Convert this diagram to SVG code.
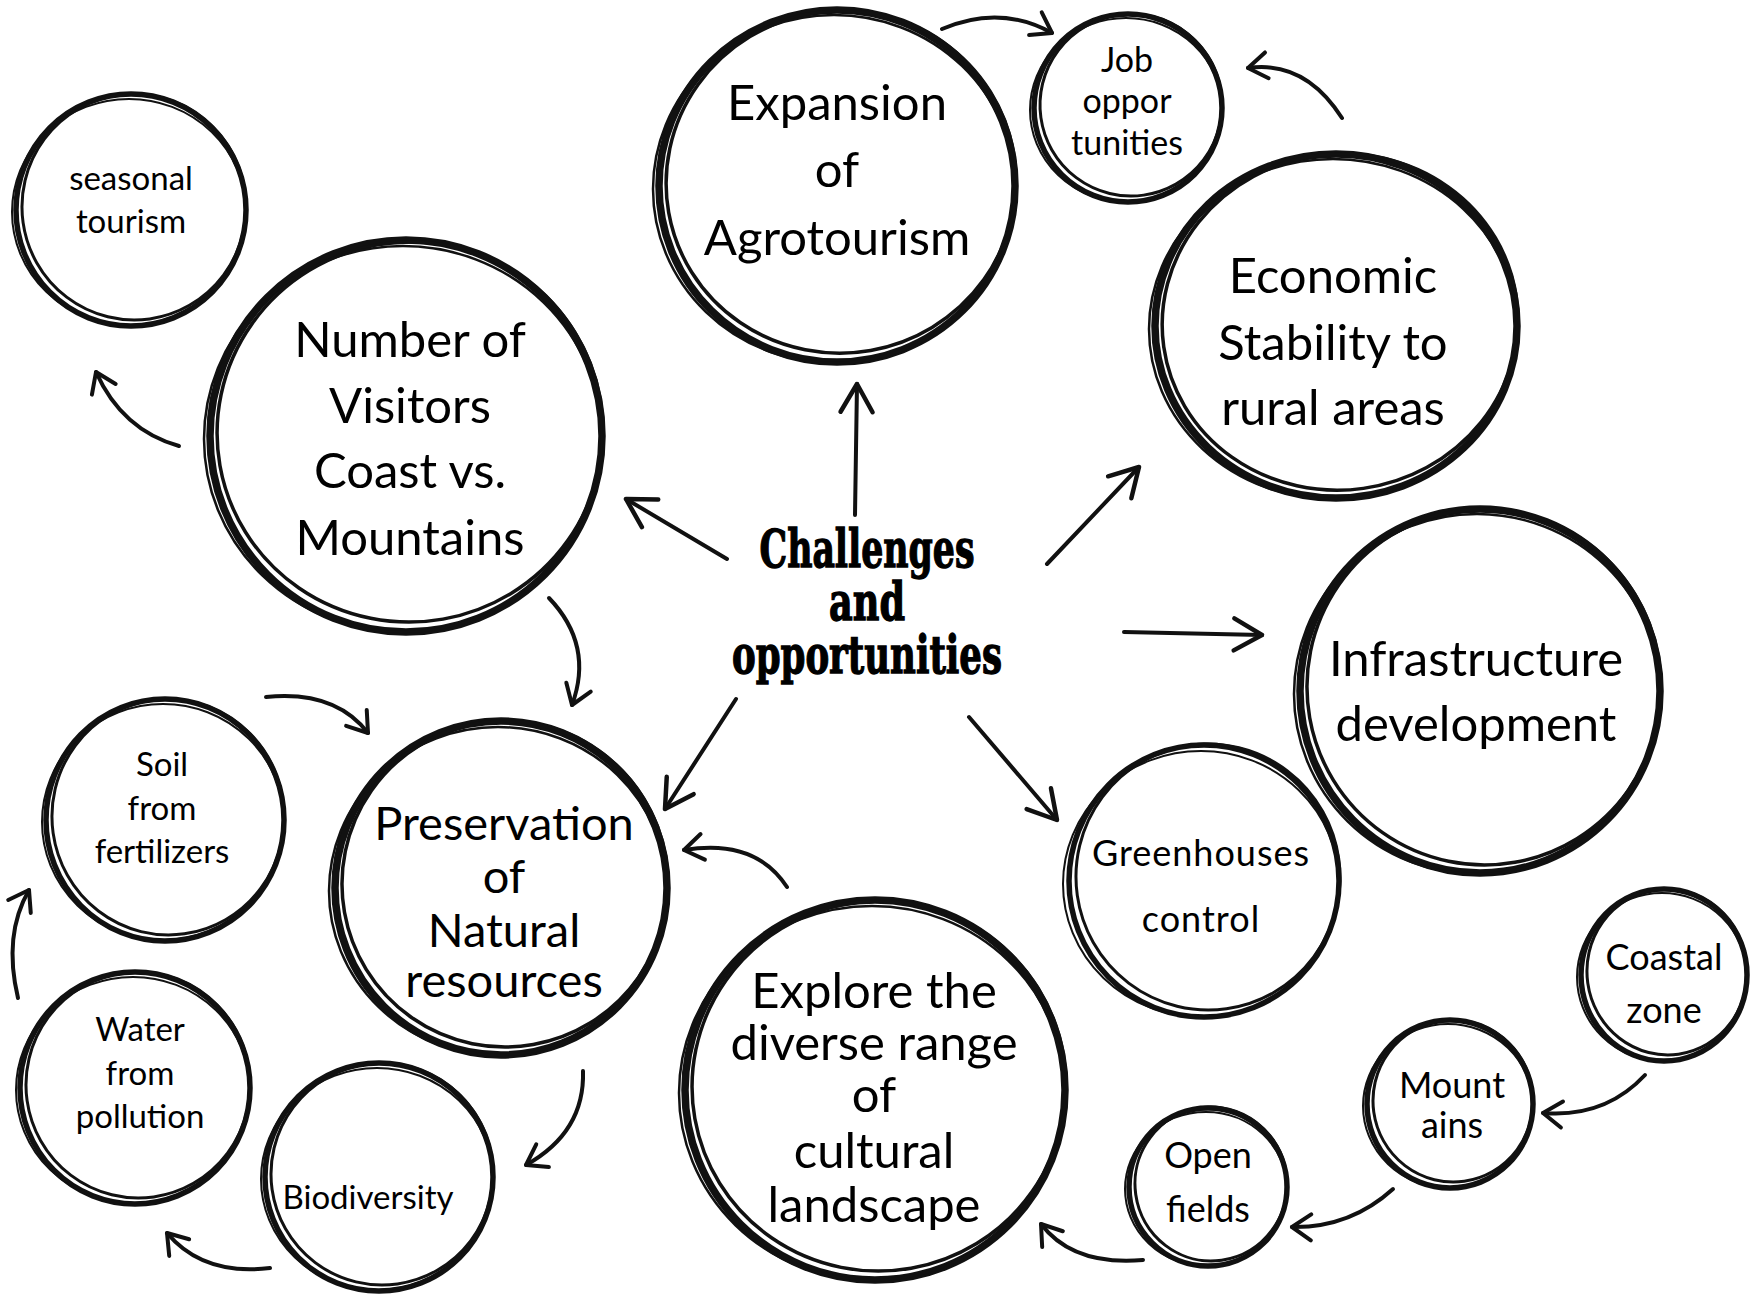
<svg xmlns="http://www.w3.org/2000/svg" width="1756" height="1296" viewBox="0 0 1756 1296">
  <defs>
    <style>
      .ra { fill: none; stroke: #111; stroke-width: 7.5; }
      .rb { fill: none; stroke: #111; stroke-width: 3.5; }
      .rc { fill: none; stroke: #111; stroke-width: 2.5; }
      .sa { fill: none; stroke: #111; stroke-width: 5.5; }
      .sb { fill: none; stroke: #111; stroke-width: 3; }
      .sc { fill: none; stroke: #111; stroke-width: 2; }
      .lbl { font-family: "Lato", "Open Sans", sans-serif; fill: #000; text-anchor: middle; }
      .big { font-size: 49px; }
      .tight { font-size: 47px; }
      .mid { font-size: 36px; }
      .job { font-size: 34px; }
      .small { font-size: 33px; }
      .hub { font-family: "DejaVu Serif", "Liberation Serif", serif; font-weight: bold; font-size: 53px; fill: #000; stroke: #000; stroke-width: 1.4; text-anchor: middle; }
      .link { fill: none; stroke: #111; stroke-width: 4; stroke-linecap: round; }
    </style>
    <marker id="tip" viewBox="-24 -16 28 32" refX="0" refY="0" markerWidth="28" markerHeight="32" markerUnits="userSpaceOnUse" orient="auto">
      <path d="M-19,-13 L0,0 L-19,13" fill="none" stroke="#111" stroke-width="4" stroke-linecap="round" stroke-linejoin="round"/>
    </marker>
    <marker id="tipL" viewBox="-40 -22 44 44" refX="0" refY="0" markerWidth="44" markerHeight="44" markerUnits="userSpaceOnUse" orient="auto">
      <path d="M-28,-16 L0,0 L-28,16" fill="none" stroke="#111" stroke-width="4.5" stroke-linecap="round" stroke-linejoin="round"/>
    </marker>
  </defs>

  <rect width="1756" height="1296" fill="#fff"/>

  <!-- connectors -->
  <g id="connectors">
    <!-- from the hub -->
    <path class="link" d="M855,515 L857,384" marker-end="url(#tipL)"/>
    <path class="link" d="M727,559 L626,499" marker-end="url(#tipL)"/>
    <path class="link" d="M1047,564 L1139,467" marker-end="url(#tipL)"/>
    <path class="link" d="M1124,632 L1262,635" marker-end="url(#tipL)"/>
    <path class="link" d="M969,717 L1057,820" marker-end="url(#tipL)"/>
    <path class="link" d="M736,699 L665,809" marker-end="url(#tipL)"/>
    <!-- curved links between nodes -->
    <path class="link" d="M942,29 Q1000,4 1052,33" marker-end="url(#tip)"/>
    <path class="link" d="M1342,118 Q1305,60 1248,68" marker-end="url(#tip)"/>
    <path class="link" d="M179,446 Q122,430 96,372" marker-end="url(#tip)"/>
    <path class="link" d="M549,598 Q594,645 572,705" marker-end="url(#tip)"/>
    <path class="link" d="M266,697 Q335,690 368,733" marker-end="url(#tip)"/>
    <path class="link" d="M787,887 Q755,838 684,850" marker-end="url(#tip)"/>
    <path class="link" d="M583,1071 Q585,1132 526,1165" marker-end="url(#tip)"/>
    <path class="link" d="M270,1268 Q203,1276 167,1233" marker-end="url(#tip)"/>
    <path class="link" d="M18,998 Q3,935 29,890" marker-end="url(#tip)"/>
    <path class="link" d="M1645,1075 Q1605,1118 1543,1113" marker-end="url(#tip)"/>
    <path class="link" d="M1393,1189 Q1350,1228 1292,1227" marker-end="url(#tip)"/>
    <path class="link" d="M1143,1260 Q1073,1266 1041,1224" marker-end="url(#tip)"/>
  </g>

  <!-- hub label -->
  <g id="hub">
    <text class="hub" x="867" y="567" textLength="215" lengthAdjust="spacingAndGlyphs">Challenges</text>
    <text class="hub" x="867" y="620" textLength="76" lengthAdjust="spacingAndGlyphs">and</text>
    <text class="hub" x="867" y="673" textLength="270" lengthAdjust="spacingAndGlyphs">opportunities</text>
  </g>

  <g id="seasonal-tourism">
    <ellipse class="sa" cx="131" cy="210" rx="115" ry="116"/>
    <ellipse class="sb" cx="134" cy="207" rx="112" ry="113" transform="rotate(-8 134 207)"/>
    <ellipse class="sc" cx="129" cy="212" rx="117" ry="113"/>
    <text class="lbl small" x="131" y="190">seasonal</text>
    <text class="lbl small" x="131" y="233">tourism</text>
  </g>

  <g id="number-of-visitors">
    <ellipse class="ra" cx="406" cy="436" rx="196" ry="196"/>
    <ellipse class="rb" cx="410" cy="432" rx="193" ry="190" transform="rotate(-10 410 432)"/>
    <ellipse class="rc" cx="403" cy="439" rx="199" ry="193"/>
    <text class="lbl big" x="410" y="357">Number of</text>
    <text class="lbl big" x="410" y="423">Visitors</text>
    <text class="lbl big" x="410" y="488">Coast vs.</text>
    <text class="lbl big" x="410" y="555">Mountains</text>
  </g>

  <g id="expansion-of-agrotourism">
    <ellipse class="ra" cx="837" cy="186" rx="178" ry="176"/>
    <ellipse class="rb" cx="841" cy="182" rx="175" ry="171" transform="rotate(-10 841 182)"/>
    <ellipse class="rc" cx="834" cy="189" rx="181" ry="174"/>
    <text class="lbl big" x="837" y="120">Expansion</text>
    <text class="lbl big" x="837" y="187">of</text>
    <text class="lbl big" x="837" y="255">Agrotourism</text>
  </g>

  <g id="job-opportunities">
    <ellipse class="sa" cx="1128" cy="108" rx="94" ry="94"/>
    <ellipse class="sb" cx="1131" cy="105" rx="91" ry="91" transform="rotate(-8 1131 105)"/>
    <ellipse class="sc" cx="1126" cy="110" rx="96" ry="92"/>
    <text class="lbl job" x="1127" y="72">Job</text>
    <text class="lbl job" x="1127" y="113">oppor</text>
    <text class="lbl job" x="1127" y="155">tunities</text>
  </g>

  <g id="economic-stability">
    <ellipse class="ra" cx="1336" cy="326" rx="181" ry="172"/>
    <ellipse class="rb" cx="1340" cy="322" rx="178" ry="168" transform="rotate(-8 1340 322)"/>
    <ellipse class="rc" cx="1333" cy="329" rx="184" ry="170"/>
    <text class="lbl big" x="1333" y="293">Economic</text>
    <text class="lbl big" x="1333" y="360">Stability to</text>
    <text class="lbl big" x="1333" y="425">rural areas</text>
  </g>

  <g id="infrastructure-development">
    <ellipse class="ra" cx="1480" cy="691" rx="180" ry="182"/>
    <ellipse class="rb" cx="1484" cy="687" rx="177" ry="178" transform="rotate(-10 1484 687)"/>
    <ellipse class="rc" cx="1477" cy="694" rx="183" ry="180"/>
    <text class="lbl big" x="1476" y="676">Infrastructure</text>
    <text class="lbl big" x="1476" y="741">development</text>
  </g>

  <g id="greenhouses-control">
    <ellipse class="sa" cx="1204" cy="881" rx="135" ry="136"/>
    <ellipse class="sb" cx="1208" cy="877" rx="132" ry="133" transform="rotate(-8 1208 877)"/>
    <ellipse class="sc" cx="1201" cy="884" rx="138" ry="133"/>
    <text class="lbl mid" x="1201" y="866" letter-spacing="1">Greenhouses</text>
    <text class="lbl mid" x="1201" y="932" letter-spacing="1">control</text>
  </g>

  <g id="coastal-zone">
    <ellipse class="sa" cx="1664" cy="975" rx="83" ry="86"/>
    <ellipse class="sb" cx="1667" cy="972" rx="80" ry="83" transform="rotate(-8 1667 972)"/>
    <ellipse class="sc" cx="1662" cy="977" rx="85" ry="84"/>
    <text class="lbl mid" x="1664" y="970">Coastal</text>
    <text class="lbl mid" x="1664" y="1023">zone</text>
  </g>

  <g id="mountains">
    <ellipse class="sa" cx="1450" cy="1104" rx="83" ry="84"/>
    <ellipse class="sb" cx="1453" cy="1101" rx="80" ry="81" transform="rotate(-8 1453 1101)"/>
    <ellipse class="sc" cx="1448" cy="1106" rx="85" ry="82"/>
    <text class="lbl mid" x="1452" y="1098">Mount</text>
    <text class="lbl mid" x="1452" y="1138">ains</text>
  </g>

  <g id="open-fields">
    <ellipse class="sa" cx="1208" cy="1187" rx="79" ry="79"/>
    <ellipse class="sb" cx="1211" cy="1184" rx="76" ry="77" transform="rotate(-8 1211 1184)"/>
    <ellipse class="sc" cx="1206" cy="1189" rx="81" ry="77"/>
    <text class="lbl mid" x="1208" y="1168">Open</text>
    <text class="lbl mid" x="1208" y="1222">fields</text>
  </g>

  <g id="explore-cultural-landscape">
    <ellipse class="ra" cx="875" cy="1090" rx="190" ry="190"/>
    <ellipse class="rb" cx="879" cy="1086" rx="187" ry="185" transform="rotate(-10 879 1086)"/>
    <ellipse class="rc" cx="872" cy="1093" rx="193" ry="187"/>
    <text class="lbl big" x="874" y="1008">Explore the</text>
    <text class="lbl big" x="874" y="1060">diverse range</text>
    <text class="lbl big" x="874" y="1112">of</text>
    <text class="lbl big" x="874" y="1168">cultural</text>
    <text class="lbl big" x="874" y="1222">landscape</text>
  </g>

  <g id="preservation-natural-resources">
    <ellipse class="ra" cx="501" cy="888" rx="166" ry="167"/>
    <ellipse class="rb" cx="505" cy="884" rx="163" ry="163" transform="rotate(-10 505 884)"/>
    <ellipse class="rc" cx="498" cy="891" rx="169" ry="164"/>
    <text class="lbl tight" x="504" y="840">Preservation</text>
    <text class="lbl tight" x="504" y="893">of</text>
    <text class="lbl tight" x="504" y="947">Natural</text>
    <text class="lbl tight" x="504" y="997">resources</text>
  </g>

  <g id="soil-from-fertilizers">
    <ellipse class="sa" cx="165" cy="820" rx="119" ry="121"/>
    <ellipse class="sb" cx="168" cy="817" rx="116" ry="118" transform="rotate(-8 168 817)"/>
    <ellipse class="sc" cx="163" cy="822" rx="121" ry="118"/>
    <text class="lbl small" x="162" y="776">Soil</text>
    <text class="lbl small" x="162" y="820">from</text>
    <text class="lbl small" x="162" y="863">fertilizers</text>
  </g>

  <g id="water-from-pollution">
    <ellipse class="sa" cx="135" cy="1088" rx="115" ry="116"/>
    <ellipse class="sb" cx="138" cy="1085" rx="112" ry="113" transform="rotate(-8 138 1085)"/>
    <ellipse class="sc" cx="133" cy="1090" rx="117" ry="113"/>
    <text class="lbl small" x="140" y="1041">Water</text>
    <text class="lbl small" x="140" y="1085">from</text>
    <text class="lbl small" x="140" y="1128">pollution</text>
  </g>

  <g id="biodiversity">
    <ellipse class="sa" cx="379" cy="1177" rx="114" ry="114"/>
    <ellipse class="sb" cx="382" cy="1174" rx="111" ry="111" transform="rotate(-8 382 1174)"/>
    <ellipse class="sc" cx="377" cy="1179" rx="116" ry="111"/>
    <text class="lbl small" x="368" y="1209">Biodiversity</text>
  </g>
</svg>
